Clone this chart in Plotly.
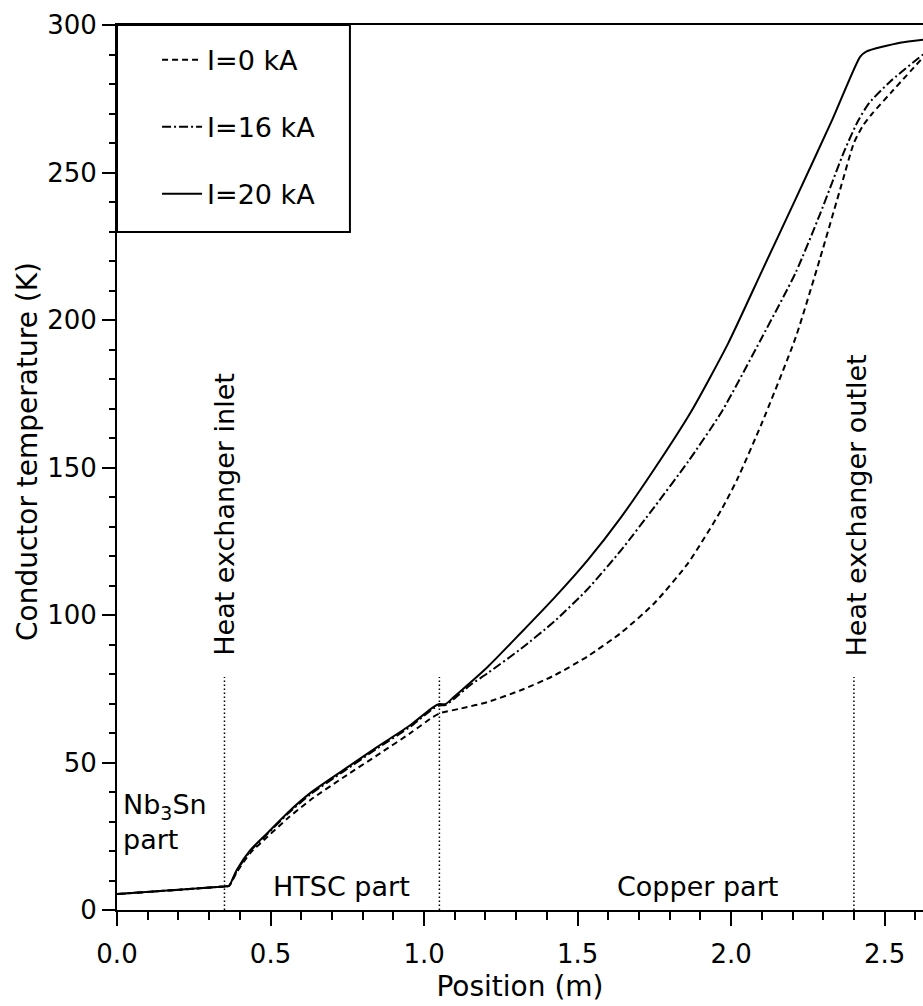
import plotly.graph_objects as go

# Conductor temperature profiles along the current lead
x_0ka = [0.0, 0.35, 0.365, 0.39, 0.434, 0.49, 0.555, 0.63, 0.738, 0.848, 0.956, 1.03, 1.054, 1.12,
         1.207, 1.315, 1.424, 1.533, 1.642, 1.75, 1.86, 1.968, 2.02, 2.10, 2.21, 2.29, 2.36, 2.40,
         2.43, 2.46, 2.52, 2.625]
t_0ka = [5.4, 8.0, 8.2, 12.8, 19.3, 24.8, 31.0, 37.3, 45.0, 52.5, 60.0, 65.5, 66.8, 68.3,
         70.5, 74.5, 79.5, 86.0, 94.0, 104.0, 117.6, 135.6, 146.0, 165.0, 194.0, 221.0, 246.0, 260.0,
         266.0, 270.0, 277.0, 289.0]

x_16ka = [0.0, 0.35, 0.365, 0.39, 0.434, 0.49, 0.555, 0.63, 0.738, 0.848, 0.956, 1.03, 1.05, 1.07,
          1.097, 1.15, 1.207, 1.315, 1.424, 1.533, 1.642, 1.75, 1.86, 1.97, 2.10, 2.21, 2.29, 2.37,
          2.415, 2.45, 2.52, 2.625]
t_16ka = [5.4, 8.0, 8.2, 13.3, 20.0, 25.8, 32.5, 39.2, 47.0, 54.8, 62.2, 68.3, 69.3, 69.5,
          71.5, 76.2, 80.3, 88.5, 97.8, 108.8, 122.0, 136.6, 152.0, 169.0, 194.0, 216.0, 236.0, 257.6,
          267.8, 273.6, 281.0, 290.0]

x_20ka = [0.0, 0.35, 0.365, 0.39, 0.434, 0.49, 0.555, 0.63, 0.738, 0.848, 0.956, 1.03, 1.05, 1.07,
          1.097, 1.207, 1.315, 1.424, 1.533, 1.642, 1.75, 1.87, 1.99, 2.10, 2.21, 2.33, 2.42, 2.44,
          2.55, 2.625]
t_20ka = [5.4, 8.0, 8.2, 13.6, 20.3, 26.1, 32.9, 39.7, 47.5, 55.3, 62.7, 68.8, 69.8, 69.8,
          72.2, 82.4, 93.9, 105.8, 118.6, 133.2, 149.5, 169.0, 192.0, 216.5, 241.0, 268.0, 289.2, 291.0,
          294.0, 295.0]

series_names = ["I=0 kA", "I=16 kA", "I=20 kA"]
series_dash = ["6px,4px", "9px,3px,2px,3px", "solid"]

# Section boundaries: heat exchanger inlet, HTSC/copper joint, heat exchanger outlet
boundary_x = [0.35, 1.05, 2.40]
boundary_top = 79

FONT = "DejaVu Sans"

fig = go.Figure()
for i, (xs, ts) in enumerate([(x_0ka, t_0ka), (x_16ka, t_16ka), (x_20ka, t_20ka)]):
    fig.add_trace(go.Scatter(
        x=xs, y=ts, mode="lines", name=series_names[i],
        legendgroup=f"g{i}",
        line=dict(color="black", width=2, dash=series_dash[i], shape="spline", smoothing=0.6),
    ))

for bx in boundary_x:
    fig.add_shape(type="line", xref="x", yref="y", x0=bx, x1=bx, y0=0, y1=boundary_top,
                  line=dict(color="black", width=1.5, dash="1.5px,2.5px"))

# Legend frame
fig.add_shape(type="rect", xref="paper", yref="paper", x0=0, x1=0.289, y0=0.766, y1=1.0,
              line=dict(color="black", width=2), fillcolor="rgba(0,0,0,0)")

ann_font = dict(family=FONT, size=27, color="black")
fig.add_annotation(x=0.352, y=134, xref="x", yref="y", text="Heat exchanger inlet",
                   textangle=-90, showarrow=False, font=ann_font)
fig.add_annotation(x=2.409, y=137, xref="x", yref="y", text="Heat exchanger outlet",
                   textangle=-90, showarrow=False, font=ann_font)
fig.add_annotation(x=0.012, y=30, xref="x", yref="y", text="Nb<sub>3</sub>Sn<br>part",
                   xanchor="left", align="left", showarrow=False, font=ann_font)
fig.add_annotation(x=0.732, y=8.1, xref="x", yref="y", text="HTSC part",
                   showarrow=False, font=ann_font)
fig.add_annotation(x=1.889, y=8.1, xref="x", yref="y", text="Copper part",
                   showarrow=False, font=ann_font)

# Y-axis title
fig.add_annotation(x=-0.1117, y=0.5186, xref="paper", yref="paper",
                   xanchor="center", yanchor="middle",
                   text="Conductor temperature (K)", textangle=-90, showarrow=False,
                   font=dict(family=FONT, size=28, color="black"))

fig.update_layout(
    width=923, height=1006,
    margin=dict(l=117, r=0, t=25, b=96),
    paper_bgcolor="white", plot_bgcolor="white",
    font=dict(family=FONT, size=26, color="black"),
    showlegend=True,
    legend=dict(x=0.0497, y=0.988, xanchor="left", yanchor="top",
                bgcolor="rgba(0,0,0,0)", borderwidth=0,
                font=dict(family=FONT, size=27, color="black"),
                traceorder="grouped", tracegroupgap=29, itemwidth=40),
)

fig.update_xaxes(
    range=[0, 2.625], showgrid=False, zeroline=False,
    showline=True, linecolor="black", linewidth=2, mirror=True,
    ticks="outside", ticklen=14, tickwidth=2, tickcolor="black",
    tick0=0, dtick=0.5, tickformat=".1f", ticklabelstandoff=6,
    minor=dict(ticks="outside", dtick=0.1, ticklen=8, tickwidth=1.5, tickcolor="black"),
    title=dict(text="Position (m)", font=dict(family=FONT, size=28), standoff=8),
)
fig.update_yaxes(
    range=[0, 300], showgrid=False, zeroline=False,
    showline=True, linecolor="black", linewidth=2, mirror=False,
    ticks="outside", ticklen=13, tickwidth=2, tickcolor="black",
    tick0=0, dtick=50,
    minor=dict(ticks="outside", dtick=10, ticklen=6, tickwidth=1.5, tickcolor="black"),
)

fig.write_html("out.html")
